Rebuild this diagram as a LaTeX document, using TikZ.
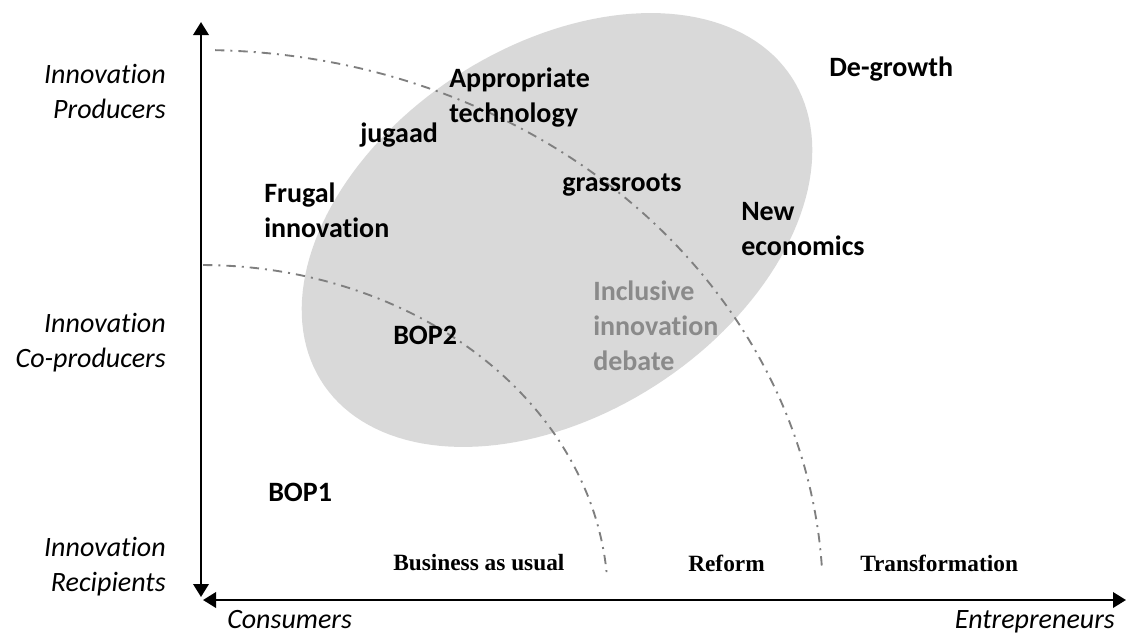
\documentclass[tikz,border=0pt]{standalone}
\usepackage{fontspec}
\setmainfont{Carlito}[Ligatures=NoCommon]
\newfontfamily\tnr{Liberation Serif}
\usetikzlibrary{arrows.meta}
\definecolor{ellgray}{HTML}{D9D9D9}
\definecolor{arcgray}{HTML}{7F7F7F}
\definecolor{txtgray}{HTML}{8A8A8A}
\begin{document}
\begin{tikzpicture}[x=0.75pt,y=-0.75pt,
  lbl/.style={font=\fontsize{21}{26.25}\selectfont\bfseries, inner sep=0pt, align=left, anchor=west},
  axlbl/.style={font=\fontsize{21}{26.25}\selectfont\itshape, inner sep=0pt, align=right},
  zone/.style={font=\tnr\fontsize{17.5}{21}\selectfont\bfseries, inner sep=0pt, anchor=west},
  axis/.style={line width=1.9pt, {Triangle[length=9.75pt,width=11.5pt]}-{Triangle[length=9.75pt,width=11.5pt]}},
  bound/.style={arcgray, line width=1.4pt, dash pattern=on 7pt off 4.5pt on 1.5pt off 4.5pt}]
\useasboundingbox (0,0) rectangle (1127,636);
% inclusive innovation region
\fill[ellgray] plot[domain=0:360, samples=160] ({557+280*cos(\x)*cos(33)+184*sin(\x)*sin(33)}, {230-280*cos(\x)*sin(33)+184*sin(\x)*cos(33)}) -- cycle;
% boundaries
\draw[bound] plot[domain=89.7:4.3, samples=90] ({201+407*cos(\x)},{600-335*sin(\x)});
\draw[bound] plot[domain=88.7:3.3, samples=120] ({201+622*cos(\x)},{600-550*sin(\x)});
% axes
\coordinate (vtop) at (201,22);
\coordinate (vbot) at (201,597);
\coordinate (hleft) at (203,600);
\coordinate (hright) at (1126,600);
\draw[axis] (vbot) -- (vtop);
\draw[axis] (hleft) -- (hright);
% axis labels
\node[axlbl, anchor=east] (prod) at (166,91) {Innovation\\Producers};
\node[axlbl, anchor=east] (cop) at (166,343) {Innovation\\Co-producers};
\node[axlbl, anchor=east] (rec) at (166,567) {Innovation\\Recipients};
\node[axlbl, anchor=west] (cons) at (227,620) {Consumers};
\node[axlbl, anchor=east] (entr) at (1115,622) {Entrepreneurs};
% labels
\node[lbl] (degr) at (829,69.5) {De-growth};
\node[lbl] (appr) at (449,97.5) {Appropriate\\technology};
\node[lbl] (jug) at (360,135) {jugaad};
\node[lbl] (frug) at (264,210.5) {Frugal\\innovation};
\node[lbl] (grass) at (562,185) {grassroots};
\node[lbl] (newec) at (741,229.5) {New\\economics};
\node[lbl, text=txtgray] (incl) at (593,326) {Inclusive\\innovation\\debate};
\node[lbl] (bop2) at (393,335) {BOP2};
\node[lbl] (bop1) at (268,492.5) {BOP1};
\node[zone] (bau) at (393,562.5) {Business as usual};
\node[zone] (ref) at (688,563.5) {Reform};
\node[zone] (trans) at (860,563.5) {Transformation};
\end{tikzpicture}
\end{document}
